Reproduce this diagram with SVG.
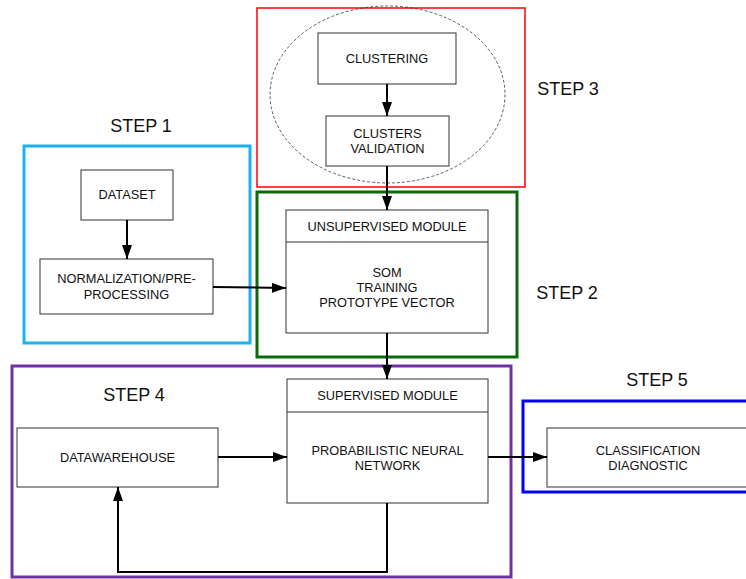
<svg xmlns="http://www.w3.org/2000/svg" width="746" height="579" viewBox="0 0 746 579">
<defs>
<marker id="ah" markerWidth="14" markerHeight="10" refX="14" refY="5" orient="auto" markerUnits="userSpaceOnUse">
<path d="M0,0 L14,5 L0,10 Z" fill="#000"/>
</marker>
<style>
.box{fill:#fff;stroke:#333;stroke-width:1}
.t{font-family:"Liberation Sans",Arial,sans-serif;font-size:12.8px;fill:#111;text-anchor:middle}
.step{font-family:"Liberation Sans",Arial,sans-serif;font-size:18px;fill:#111;text-anchor:middle}
.grp{fill:none}
.c{fill:none;stroke:#000;stroke-width:2}
</style>
</defs>
<rect width="746" height="579" fill="#fff"/>
<g id="step3">
<rect class="grp" x="257" y="8" width="268" height="179" stroke="#ff0000" stroke-width="1.5"/>
<ellipse cx="387.5" cy="94.5" rx="117.5" ry="88.5" fill="none" stroke="#333" stroke-width="0.8" stroke-dasharray="3,2"/>
<text class="step" x="568" y="95">STEP 3</text>
</g>
<g id="step1">
<rect class="grp" x="24" y="146" width="226" height="197" stroke="#1ab2ee" stroke-width="3"/>
<text class="step" x="141" y="132">STEP 1</text>
</g>
<g id="step2">
<rect class="grp" x="257" y="192" width="260" height="165" stroke="#0a6a0a" stroke-width="3"/>
<text class="step" x="567" y="299">STEP 2</text>
</g>
<g id="step4">
<rect class="grp" x="12" y="366" width="499" height="211" stroke="#7030a0" stroke-width="3"/>
<text class="step" x="134" y="401">STEP 4</text>
</g>
<g id="step5">
<rect class="grp" x="523" y="401" width="240" height="91" stroke="#0000ff" stroke-width="3"/>
<text class="step" x="657" y="386">STEP 5</text>
</g>
<g id="clustering">
<rect class="box" x="318" y="33" width="138" height="51"/>
<text class="t" x="387" y="63">CLUSTERING</text>
</g>
<g id="validation">
<rect class="box" x="326" y="116" width="123" height="50"/>
<text class="t" x="387.5" y="138">CLUSTERS</text>
<text class="t" x="387.5" y="153">VALIDATION</text>
</g>
<g id="dataset">
<rect class="box" x="81" y="170" width="92" height="50"/>
<text class="t" x="127" y="199">DATASET</text>
</g>
<g id="normalization">
<rect class="box" x="40" y="259" width="173" height="55"/>
<text class="t" x="126.5" y="283">NORMALIZATION/PRE-</text>
<text class="t" x="126.5" y="299">PROCESSING</text>
</g>
<g id="unsupervised">
<rect class="box" x="286" y="210" width="202" height="123"/>
<line x1="286" y1="242" x2="488" y2="242" stroke="#333" stroke-width="1"/>
<text class="t" x="387" y="231">UNSUPERVISED MODULE</text>
<text class="t" x="387" y="277">SOM</text>
<text class="t" x="387" y="292">TRAINING</text>
<text class="t" x="387" y="307">PROTOTYPE VECTOR</text>
</g>
<g id="supervised">
<rect class="box" x="287" y="379" width="201" height="124"/>
<line x1="287" y1="412" x2="488" y2="412" stroke="#333" stroke-width="1"/>
<text class="t" x="387.5" y="400">SUPERVISED MODULE</text>
<text class="t" x="387.5" y="455">PROBABILISTIC NEURAL</text>
<text class="t" x="387.5" y="470">NETWORK</text>
</g>
<g id="datawarehouse">
<rect class="box" x="17" y="428" width="201" height="59"/>
<text class="t" x="117.5" y="462">DATAWAREHOUSE</text>
</g>
<g id="classification">
<rect class="box" x="547" y="428" width="220" height="59"/>
<text class="t" x="648" y="455">CLASSIFICATION</text>
<text class="t" x="648" y="470">DIAGNOSTIC</text>
</g>
<g id="connectors">
<line class="c" x1="387" y1="84" x2="387" y2="116" marker-end="url(#ah)"/>
<line class="c" x1="387" y1="166" x2="387" y2="210" marker-end="url(#ah)"/>
<line class="c" x1="127" y1="220" x2="127" y2="259" marker-end="url(#ah)"/>
<line class="c" x1="213" y1="287" x2="286" y2="288" marker-end="url(#ah)"/>
<line class="c" x1="387" y1="333" x2="387" y2="379" marker-end="url(#ah)"/>
<line class="c" x1="218" y1="457" x2="287" y2="457" marker-end="url(#ah)"/>
<line class="c" x1="488" y1="457" x2="547" y2="457" marker-end="url(#ah)"/>
<polyline class="c" points="387,503 387,572 118,572 118,487" marker-end="url(#ah)"/>
</g>
</svg>
